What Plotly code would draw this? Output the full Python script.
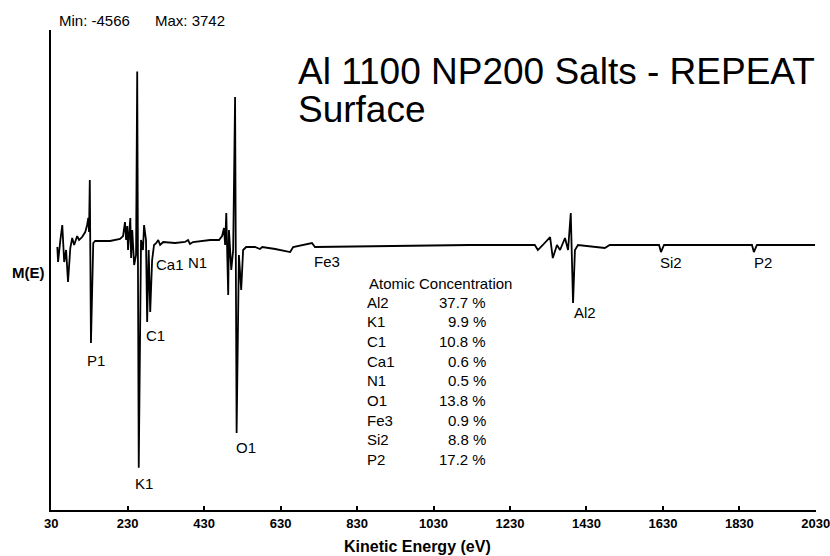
import plotly.graph_objects as go

# Spectrum trace (kinetic energy in eV, derivative intensity)
energy = [46, 48, 54, 59, 64, 69, 74, 80, 85, 90, 98, 103, 111, 119, 124, 127, 129,
          131, 134, 140, 145, 184, 210, 218, 223, 226, 229, 231, 237, 239, 242, 247, 252,
          255, 259, 265, 270, 273, 278, 281, 285, 289, 294, 299, 305, 310, 315, 323, 354,
          380, 388, 393, 401, 446, 469, 477, 482, 485, 488, 490, 493, 495, 501, 506,
          511, 515, 521, 527, 532, 540, 563, 576, 582, 616, 655, 663, 712, 720, 942, 1125,
          1295, 1303, 1316, 1335, 1342, 1353, 1361, 1374, 1382, 1389, 1395, 1400, 1408,
          1478, 1491, 1620, 1625, 1633, 1863, 1868, 1876, 2028]
intensity = [63, -252, 210, 524, -252, 0, -671, 42, 252, 105, 293, 210, 272, 377, 524, 671, 377,
             1467, -1949, 147, 189, 189, 231, 293, 587, 210, 503, 0, 671, -168, 419, -314, -105,
             3742, -4566, 210, 0, 524, 210, -1509, 0, -1300, -210, 105, 147, 210, 105, 168, 147,
             168, 210, 126, 168, 210, 210, 293, 461, 105, 775, 0, -943, 419, -419, 0,
             3207, -3836, -105, -838, 0, 63, 63, 21, 63, 21, -42, 63, 147, 63, 84, 105,
             105, 0, 105, 272, -168, 105, 0, 252, 0, 775, -1111, 0, 105,
             42, 105, 105, -42, 105, 105, -42, 105, 105]

# Peak labels
peak_names = ["P1", "C1", "K1", "Ca1", "N1", "O1", "Fe3", "Al2", "Si2", "P2"]
peak_e = [148, 304, 273, 341, 412, 540, 752, 1426, 1651, 1891]
peak_v = [-2306, -1782, -4884, -314, -272, -4150, -231, -1320, -272, -272]

# Atomic concentration table
elements = ["Al2", "K1", "C1", "Ca1", "N1", "O1", "Fe3", "Si2", "P2"]
concentration = [37.7, 9.9, 10.8, 0.6, 0.5, 13.8, 0.9, 8.8, 17.2]

x_ticks = [30, 230, 430, 630, 830, 1030, 1230, 1430, 1630, 1830, 2030]
y_min_val, y_max_val = -4566, 3742

FONT = "Liberation Sans, Arial, sans-serif"
W, H = 830, 556
ML, MR, MT, MB = 51, 14, 30, 46
PW, PH = W - ML - MR, H - MT - MB

def px(x):
    return (x - ML) / PW

def py(y):
    return (H - MB - y) / PH

def txt(x, y, s, size, xanchor="left", bold=False):
    return dict(x=px(x), y=py(y), xref="paper", yref="paper", xanchor=xanchor,
                yanchor="middle", text=s, showarrow=False,
                font=dict(family=FONT, size=size, color="black",
                          weight="bold" if bold else "normal"))

fig = go.Figure()
fig.add_trace(go.Scatter(x=energy, y=intensity, mode="lines",
                         line=dict(color="black", width=1.8), hoverinfo="skip",
                         showlegend=False))

ann = []
for n, e, v in zip(peak_names, peak_e, peak_v):
    ann.append(dict(x=e, y=v, xref="x", yref="y", text=n, showarrow=False,
                    xanchor="center", yanchor="middle",
                    font=dict(family=FONT, size=15, color="black")))

ann.append(txt(367, 283, "Atomic Concentration", 15))
for i, (el, c) in enumerate(zip(elements, concentration)):
    yy = 302 + i * 19.7
    ann.append(txt(365, yy, el, 15))
    ann.append(txt(488, yy, f"{c:.1f} %", 15, xanchor="right"))

ann.append(txt(296, 71, "Al 1100 NP200 Salts - REPEAT", 37))
ann.append(txt(296, 110, "Surface", 37))
ann.append(txt(57, 20, f"Min: {y_min_val}", 15))
ann.append(txt(153, 20, f"Max: {y_max_val}", 15))
ann.append(txt(28, 272, "M(E)", 15, xanchor="center", bold=True))
ann.append(txt(417, 546, "Kinetic Energy (eV)", 16, xanchor="center", bold=True))

fig.update_layout(
    width=W, height=H,
    margin=dict(l=ML, r=MR, t=MT, b=MB, autoexpand=False),
    paper_bgcolor="white", plot_bgcolor="white",
    annotations=ann,
    xaxis=dict(range=[29.5, 2030.5], tickvals=x_ticks, ticktext=[str(t) for t in x_ticks],
               showgrid=False, zeroline=False, showline=True, linecolor="black",
               linewidth=2, ticks="inside", ticklen=4, tickwidth=2, tickcolor="black",
               ticklabeloverflow="allow", automargin=False,
               tickfont=dict(family=FONT, size=13, color="black", weight="bold")),
    yaxis=dict(range=[-5450, 4612], showgrid=False, zeroline=False, showline=True,
               linecolor="black", linewidth=2, showticklabels=False, ticks="",
               automargin=False),
)

fig.write_html("out.html")
